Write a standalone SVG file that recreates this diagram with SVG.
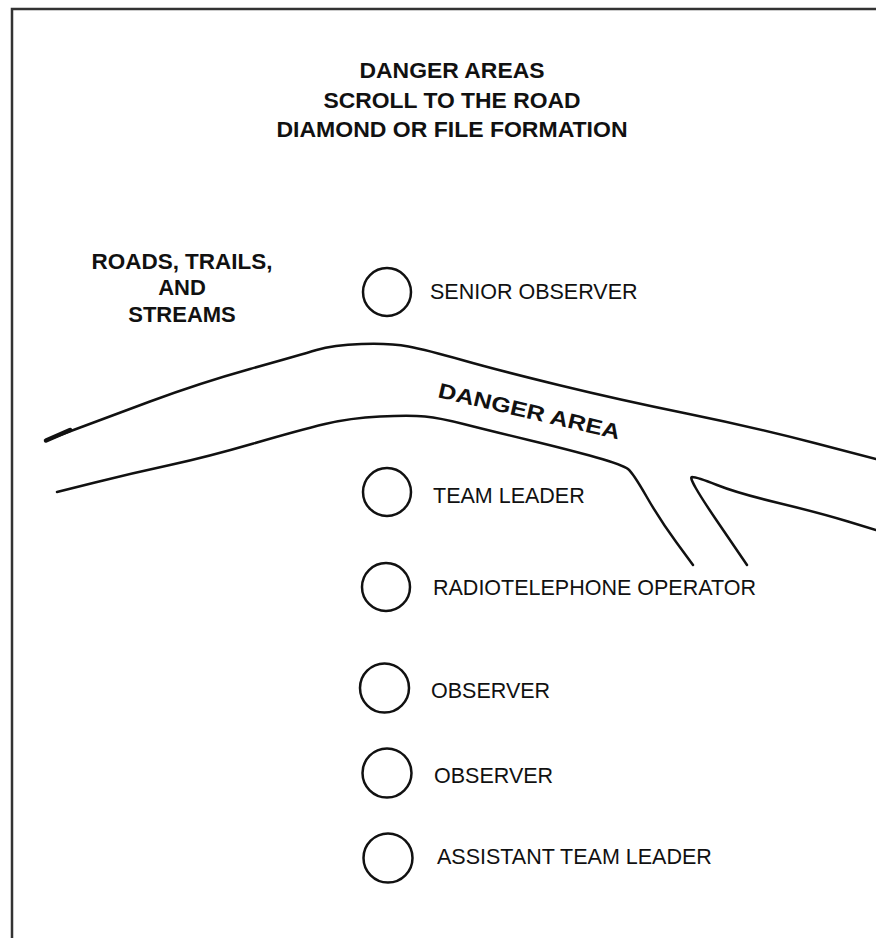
<svg xmlns="http://www.w3.org/2000/svg" width="876" height="938" viewBox="0 0 876 938">
<style>
.title{font-family:"Liberation Sans",Arial,sans-serif;font-weight:bold;font-size:22px;fill:#111;text-anchor:middle}
.lbl{font-family:"Liberation Sans",Arial,sans-serif;font-size:21.5px;fill:#111}
.node circle{fill:none;stroke:#111;stroke-width:2.5}
.road{fill:none;stroke:#111;stroke-width:2.5;stroke-linecap:round;stroke-linejoin:round}
</style>
<rect width="876" height="938" fill="#fff"/>
<path d="M12,938 L12,9 L876,9" fill="none" stroke="#333" stroke-width="2.5"/>
<g id="title">
<text class="title" x="452" y="78" textLength="185" lengthAdjust="spacingAndGlyphs">DANGER AREAS</text>
<text class="title" x="452" y="108" textLength="257" lengthAdjust="spacingAndGlyphs">SCROLL TO THE ROAD</text>
<text class="title" x="452" y="137" textLength="351" lengthAdjust="spacingAndGlyphs">DIAMOND OR FILE FORMATION</text>
</g>
<g id="roads-label">
<text class="title" x="182" y="269" textLength="181" lengthAdjust="spacingAndGlyphs">ROADS, TRAILS,</text>
<text class="title" x="182" y="295">AND</text>
<text class="title" x="182" y="322">STREAMS</text>
</g>
<g id="roads">
<path class="road" d="M47,440 L73.5,430 Q100,420 150,401.5 Q200,383 250,369 Q300,355 316.5,350 Q333,345 361.5,344 Q390,343 408.5,346.5 Q427,350 462,360 Q497,370 558.5,385 Q620,400 686.5,413.5 Q753,427 814.5,443 L876,459"/>
<path d="M46,440.5 L70,430" stroke="#111" stroke-width="4.5" stroke-linecap="round"/>
<path class="road" d="M57,492 L95,482.5 Q133,473 170,465 Q207,457 253.5,443.5 Q300,430 325,424 Q350,418 380,416.5 Q410,415 425,416.5 Q440,418 463.5,424 Q487,430 528.5,440 Q570,450 596.5,457.5 Q623,465 628,469 Q633,473 646.5,496.5 Q660,520 676.5,542.5 L693,565"/>
<path class="road" d="M747,565 L717,521 Q687,477 692,477 Q697,477 717,485 Q737,493 778.5,503 Q820,513 848,521.5 L876,530"/>
<text x="437" y="397" transform="rotate(13.2 437 397)" font-family="Liberation Sans, Arial, sans-serif" font-weight="bold" font-size="21" fill="#111" textLength="186" lengthAdjust="spacingAndGlyphs">DANGER AREA</text>
</g>
<g id="senior-observer" class="node">
<circle cx="387" cy="292" r="24"/>
<text class="lbl" x="430" y="299">SENIOR OBSERVER</text>
</g>
<g id="team-leader" class="node">
<circle cx="387" cy="492" r="24"/>
<text class="lbl" x="433" y="503">TEAM LEADER</text>
</g>
<g id="radiotelephone-operator" class="node">
<circle cx="386" cy="587" r="24"/>
<text class="lbl" x="433" y="595">RADIOTELEPHONE OPERATOR</text>
</g>
<g id="observer-1" class="node">
<circle cx="384.5" cy="688" r="24.5"/>
<text class="lbl" x="431" y="698">OBSERVER</text>
</g>
<g id="observer-2" class="node">
<circle cx="387" cy="773" r="24.5"/>
<text class="lbl" x="434" y="783">OBSERVER</text>
</g>
<g id="assistant-team-leader" class="node">
<circle cx="388" cy="858" r="24.5"/>
<text class="lbl" x="437" y="864">ASSISTANT TEAM LEADER</text>
</g>
</svg>
